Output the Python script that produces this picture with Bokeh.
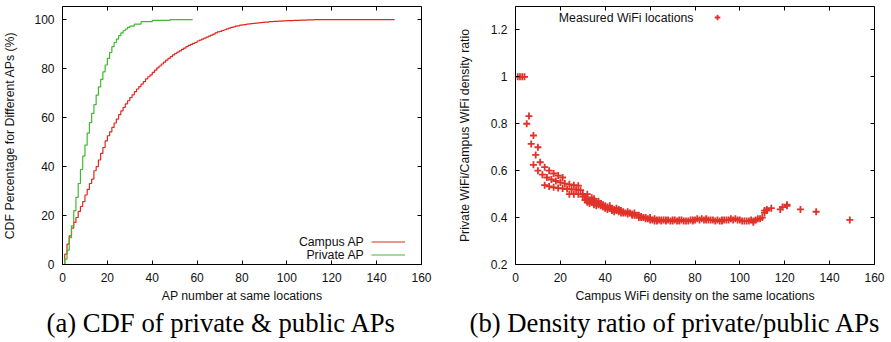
from bokeh.plotting import figure
from bokeh.layouts import row
from bokeh.models import Range1d, FixedTicker, LinearAxis, Legend, LegendItem, Label, Title
from bokeh.embed import file_html
from bokeh.resources import INLINE

# ---------------- data: (a) CDF ----------------
campus_x = [0, 1, 2, 3, 4, 5, 6, 7, 8, 9, 10, 11, 12, 13, 14, 15, 16, 17, 18, 19,
            20, 21, 22, 23, 24, 25, 26, 27, 28, 29, 30, 31, 32, 33, 34, 35, 36, 37, 38, 39,
            40, 41, 42, 43, 44, 45, 46, 47, 48, 49, 50, 51, 52, 53, 54, 55, 56, 57, 58, 59,
            60, 61, 62, 63, 64, 65, 66, 67, 68, 69, 70, 71, 72, 73, 74, 75, 76, 77, 78, 79,
            80, 81, 82, 83, 84, 85, 86, 87, 88, 89, 90, 92, 94, 96, 98, 100, 103, 106, 109, 112, 148]
campus_cdf = [0, 4.2, 8.3, 11.7, 14.9, 17.2, 19.2, 21.7, 23.7, 25.7, 28.4, 30.7, 33.1, 34.9, 38.3, 40.0, 42.7, 45.4, 47.8, 50.5,
              52.6, 54.2, 56.0, 57.8, 59.4, 61.2, 62.8, 64.2, 65.6, 66.9, 68.2, 69.3, 70.6, 71.7, 72.7, 73.7, 74.7, 75.8, 76.7, 77.5,
              78.5, 79.4, 80.3, 81.1, 81.9, 82.7, 83.5, 84.2, 84.9, 85.6, 86.2, 86.8, 87.3, 87.9, 88.4, 89.0, 89.5, 89.9, 90.3, 90.7,
              91.3, 91.7, 92.1, 92.5, 92.9, 93.3, 93.7, 94.1, 94.6, 95.0, 95.2, 95.6, 95.9, 96.3, 96.6, 96.9, 97.1, 97.4, 97.5, 97.8,
              97.9, 98.0, 98.2, 98.3, 98.4, 98.5, 98.6, 98.7, 98.8, 98.9, 99.0, 99.2, 99.3, 99.4, 99.5, 99.6, 99.7, 99.8, 99.9, 100, 100]

private_x = [0, 1, 2, 3, 4, 5, 6, 7, 8, 9, 10, 11, 12, 13, 14, 15, 16, 17, 18, 19,
             20, 21, 22, 23, 24, 25, 26, 27, 28, 29, 30, 32, 35, 40, 48, 58]
private_cdf = [0, 2.2, 5.9, 11.0, 15.8, 22.0, 27.4, 33.1, 38.8, 44.3, 48.8, 53.7, 58.0, 61.7, 65.3, 69.2, 72.6, 75.6, 78.7, 81.5,
               84.2, 86.6, 89.0, 90.7, 92.1, 93.5, 94.6, 95.5, 96.2, 96.9, 97.4, 98.2, 99.2, 99.7, 100, 100]

# ---------------- data: (b) density ratio ----------------
ratio_x = [1, 2, 3, 4,
           5, 6, 7, 8, 8, 9, 10, 10, 11, 12, 13, 13, 14, 15, 15, 16, 17, 17, 18, 19, 19, 20, 21, 21,
           22, 23, 24, 24, 25, 26, 26, 27, 28, 28, 29, 30, 32,
           30, 31, 31, 32, 32, 33, 33, 34, 34, 35, 35, 35, 36, 36, 37, 37, 38, 38, 39, 39, 40, 40,
           41, 41, 42, 42, 43, 43, 44, 44, 45, 45, 46, 46, 47, 47, 48, 48, 49, 50, 50, 51, 52, 52,
           53, 53, 54, 55, 55, 56, 56, 57, 58, 58, 59, 60, 60, 61, 62, 62, 63, 63, 64, 65, 65, 66,
           67, 67, 68, 69, 70, 70, 71, 72, 73, 73, 74, 75, 76, 77, 78, 79, 79, 80, 81, 82, 83, 84,
           85, 85, 86, 87, 88, 89, 90, 91, 92, 92, 93, 94, 95, 96, 97, 98, 99, 100, 101, 102, 103,
           104, 105, 106, 106, 107, 108, 109, 110, 111, 111, 112, 112,
           114, 118, 119, 121, 121, 127, 134, 149]
ratio_y = [1.0, 1.0, 1.0, 1.0,
           0.8, 0.833, 0.714, 0.75, 0.625, 0.667, 0.7, 0.6, 0.636, 0.583, 0.615, 0.538, 0.571, 0.6, 0.533,
           0.5625, 0.588, 0.529, 0.556, 0.579, 0.526, 0.55, 0.571, 0.524,
           0.545, 0.522, 0.542, 0.5, 0.52, 0.538, 0.5, 0.519, 0.536, 0.5, 0.517, 0.5, 0.5,
           0.49, 0.49, 0.475, 0.48, 0.465, 0.475, 0.46, 0.485, 0.465, 0.48, 0.47, 0.455, 0.465, 0.45,
           0.47, 0.455, 0.46, 0.45, 0.455, 0.445, 0.45, 0.44,
           0.445, 0.435, 0.45, 0.44, 0.44, 0.43, 0.435, 0.425, 0.44, 0.43, 0.435, 0.425, 0.43, 0.42,
           0.425, 0.42, 0.42, 0.425, 0.415, 0.42, 0.415, 0.41,
           0.42, 0.41, 0.41, 0.41, 0.4, 0.405, 0.4, 0.4, 0.4, 0.395, 0.395, 0.4, 0.39, 0.39, 0.395, 0.385,
           0.39, 0.385, 0.39, 0.39, 0.385, 0.39,
           0.385, 0.39, 0.39, 0.385, 0.39, 0.385, 0.39, 0.385, 0.39, 0.385, 0.39, 0.385, 0.385, 0.385,
           0.39, 0.385, 0.39, 0.39, 0.395, 0.39, 0.395, 0.39,
           0.395, 0.39, 0.39, 0.39, 0.39, 0.385, 0.39, 0.385, 0.385, 0.39, 0.39, 0.39, 0.39, 0.395,
           0.39, 0.395, 0.39, 0.39, 0.385, 0.385, 0.385,
           0.385, 0.39, 0.38, 0.385, 0.39, 0.395, 0.395, 0.4, 0.42, 0.43, 0.435, 0.43,
           0.44, 0.435, 0.445, 0.45, 0.455, 0.435, 0.425, 0.39]

x_ticks = [0, 20, 40, 60, 80, 100, 120, 140, 160]
cdf_ticks = [0, 20, 40, 60, 80, 100]
ratio_ticks = [0.2, 0.4, 0.6, 0.8, 1.0, 1.2]
ratio_tick_labels = {0.2: "0.2", 0.4: "0.4", 0.6: "0.6", 0.8: "0.8", 1.0: "1", 1.2: "1.2"}

SANS = "Liberation Sans"
SERIF = "Liberation Serif"
RED = "#e0281e"
GREEN = "#3fba30"
SCAT = "#e03228"
TXT = "#111111"


def mirror_axis(ticks):
    return LinearAxis(ticker=FixedTicker(ticks=ticks),
                      major_label_overrides={t: "" for t in ticks},
                      axis_line_color=None, major_tick_in=4, major_tick_out=0,
                      minor_tick_line_color=None, major_label_standoff=0,
                      major_label_text_font_size="12px")


def dress(p, xt, yt, yover=None):
    p.xgrid.visible = False
    p.ygrid.visible = False
    p.outline_line_color = "black"
    p.outline_line_width = 1
    p.outline_line_alpha = 1
    p.background_fill_color = "white"
    p.border_fill_color = "white"
    for ax in p.xaxis + p.yaxis:
        ax.axis_line_color = None
        ax.major_tick_in = 4
        ax.major_tick_out = 0
        ax.major_tick_line_color = "black"
        ax.minor_tick_line_color = None
        ax.major_label_text_font = SANS
        ax.major_label_text_font_size = "12px"
        ax.major_label_text_color = TXT
        ax.axis_label_text_font = SANS
        ax.axis_label_text_font_size = "12.3px"
        ax.axis_label_text_font_style = "normal"
        ax.axis_label_text_color = TXT
        ax.major_label_standoff = 8
    p.xaxis.ticker = FixedTicker(ticks=xt)
    p.yaxis.ticker = FixedTicker(ticks=yt)
    if yover:
        p.yaxis.major_label_overrides = yover


def caption(p, text, offset):
    p.add_layout(Title(text=text, align="left", offset=offset, standoff=0,
                       text_font=SERIF, text_font_size="26.7px", text_font_style="normal",
                       text_color="black"), "below")


# ---------------- (a) ----------------
p1 = figure(width=445, height=342, output_backend="svg", toolbar_location=None,
            x_range=Range1d(0, 160), y_range=Range1d(0, 105.4),
            min_border_left=62, min_border_right=24, min_border_top=6, min_border_bottom=78)
r_c = p1.step(campus_x, campus_cdf, mode="after", line_color=RED, line_width=1.2)
r_p = p1.step(private_x, private_cdf, mode="after", line_color=GREEN, line_width=1.2)
p1.xaxis.axis_label = "AP number at same locations"
p1.yaxis.axis_label = "CDF Percentage for Different APs (%)"
dress(p1, x_ticks, cdf_ticks)
p1.xaxis[0].axis_label_standoff = 4
p1.yaxis[0].axis_label_standoff = 14
p1.add_layout(mirror_axis(x_ticks), "above")
p1.add_layout(mirror_axis(cdf_ticks), "right")
caption(p1, "(a) CDF of private & public APs", -16)

leg1 = Legend(items=[LegendItem(label="", renderers=[r_c]), LegendItem(label="", renderers=[r_p])],
              location=(309, 3), glyph_width=34, glyph_height=13, label_width=0, label_standoff=0,
              label_height=13, label_text_font_size="12px", padding=0, margin=0, spacing=0,
              border_line_color=None, background_fill_alpha=0)
p1.add_layout(leg1, "center")
for txt, yy in (("Campus AP", 23), ("Private AP", 10)):
    p1.add_layout(Label(x=302, y=yy, x_units="screen", y_units="screen", text=txt,
                        text_align="right", text_baseline="middle", text_font=SANS,
                        text_font_size="12.3px", text_color=TXT))

# ---------------- (b) ----------------
p2 = figure(width=446, height=342, output_backend="svg", toolbar_location=None,
            x_range=Range1d(0, 160), y_range=Range1d(0.2, 1.3),
            min_border_left=70, min_border_right=17, min_border_top=6, min_border_bottom=78)
r_s = p2.scatter(ratio_x, ratio_y, marker="cross", size=7, line_color=SCAT, line_width=1.8)
p2.xaxis.axis_label = "Campus WiFi density on the same locations"
p2.yaxis.axis_label = "Private WiFi/Campus WiFi density ratio"
dress(p2, x_ticks, ratio_ticks, ratio_tick_labels)
p2.xaxis[0].axis_label_standoff = 4
p2.yaxis[0].axis_label_standoff = 16
p2.add_layout(mirror_axis(x_ticks), "above")
p2.add_layout(mirror_axis(ratio_ticks), "right")
caption(p2, "(b) Density ratio of private/public APs", -46)

leg2 = Legend(items=[LegendItem(label="", renderers=[r_s])],
              location=(195, 240), glyph_width=14, glyph_height=14, label_width=0, label_standoff=0,
              label_height=14, label_text_font_size="12px", padding=0, margin=0, spacing=0,
              border_line_color=None, background_fill_alpha=0)
p2.add_layout(leg2, "center")
p2.add_layout(Label(x=178, y=247, x_units="screen", y_units="screen", text="Measured WiFi locations",
                    text_align="right", text_baseline="middle", text_font=SANS,
                    text_font_size="12.3px", text_color=TXT))

layout = row(p1, p2, spacing=0)
open("out.html", "w").write(file_html(layout, INLINE))
